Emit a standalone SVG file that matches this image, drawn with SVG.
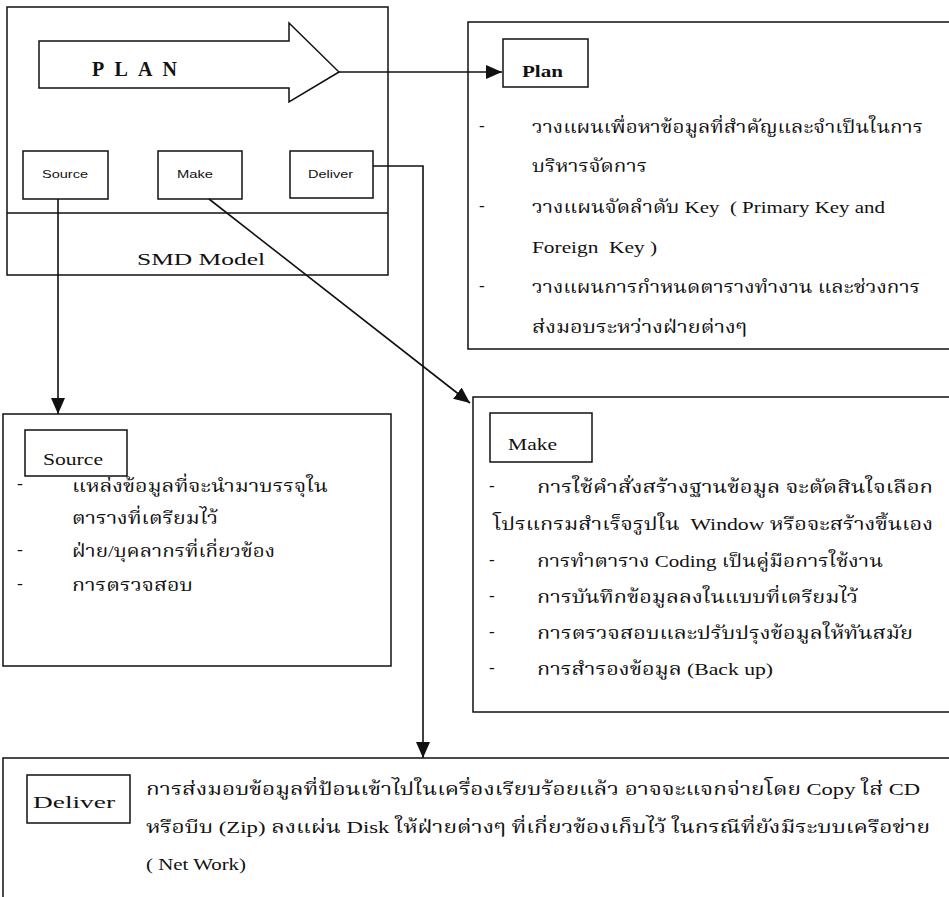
<svg xmlns="http://www.w3.org/2000/svg" width="949" height="897" viewBox="0 0 949 897">
<style>
.box{fill:none;stroke:#111;stroke-width:1.5}
.ln{fill:none;stroke:#111;stroke-width:1.6}
.th{font-family:'Liberation Serif','Noto Serif Thai','Noto Sans Thai',serif;font-size:17px;fill:#111;white-space:pre}
.thb{font-family:'Liberation Serif','Noto Serif Thai','Noto Sans Thai',serif;font-size:17.5px;fill:#111;white-space:pre}
.sm{font-family:'Liberation Sans',Arial,sans-serif;font-size:11px;fill:#111}
.lbl{font-family:'Liberation Serif',serif;font-size:16px;fill:#111}
</style>
<defs>
<marker id="ah" viewBox="0 0 16 14" refX="16" refY="7" markerWidth="16" markerHeight="14" markerUnits="userSpaceOnUse" orient="auto">
<path d="M0,0 L16,7 L0,14 Z" fill="#111"/>
</marker>
</defs>
<rect width="949" height="897" fill="#fff"/>

<g id="smd-model">
<rect class="box" x="7" y="7" width="381" height="268"/>
<line class="box" x1="7" y1="213" x2="388" y2="213"/>
<text class="lbl" x="137" y="265" font-size="18" textLength="128" lengthAdjust="spacingAndGlyphs">SMD  Model</text>
</g>

<g id="plan-arrow">
<path class="box" d="M39,41 L289,41 L289,23 L339,72 L289,102 L289,88 L39,88 Z"/>
<text x="92" y="76" font-family="'Liberation Serif',serif" font-size="20" font-weight="bold" fill="#111" textLength="85" lengthAdjust="spacing">PLAN</text>
</g>

<g id="source-small">
<rect class="box" x="23" y="151" width="85" height="48"/>
<text class="sm" x="42" y="178" textLength="46" lengthAdjust="spacingAndGlyphs">Source</text>
</g>
<g id="make-small">
<rect class="box" x="158" y="151" width="84" height="48"/>
<text class="sm" x="177" y="178" textLength="36" lengthAdjust="spacingAndGlyphs">Make</text>
</g>
<g id="deliver-small">
<rect class="box" x="290" y="151" width="83" height="47"/>
<text class="sm" x="308" y="178" textLength="45" lengthAdjust="spacingAndGlyphs">Deliver</text>
</g>

<g id="plan">
<rect class="box" x="468" y="22" width="490" height="327"/>
<rect class="box" x="503" y="39" width="85" height="48"/>
<text class="lbl" x="522" y="77" font-weight="bold" textLength="41" lengthAdjust="spacingAndGlyphs">Plan</text>
<text class="th" x="479" y="131">-</text>
<text class="th" x="532" y="133" textLength="391" lengthAdjust="spacingAndGlyphs">วางแผนเพื่อหาข้อมูลที่สำคัญและจำเป็นในการ</text>
<text class="th" x="532" y="172" textLength="115" lengthAdjust="spacingAndGlyphs">บริหารจัดการ</text>
<text class="th" x="479" y="211">-</text>
<text class="th" x="532" y="213" textLength="353" lengthAdjust="spacingAndGlyphs">วางแผนจัดลำดับ Key  ( Primary Key and</text>
<text class="th" x="532" y="253" textLength="125" lengthAdjust="spacingAndGlyphs">Foreign  Key )</text>
<text class="th" x="479" y="291">-</text>
<text class="th" x="532" y="293" textLength="388" lengthAdjust="spacingAndGlyphs">วางแผนการกำหนดตารางทำงาน และช่วงการ</text>
<text class="th" x="532" y="333" textLength="215" lengthAdjust="spacingAndGlyphs">ส่งมอบระหว่างฝ่ายต่างๆ</text>
</g>

<g id="source">
<rect class="box" x="3" y="414" width="388" height="252"/>
<rect class="box" x="25" y="430" width="102" height="46"/>
<text class="thb" x="43" y="465" font-size="18" textLength="60" lengthAdjust="spacingAndGlyphs">Source</text>
<text class="thb" x="17" y="489">-</text>
<text class="thb" x="72" y="492" textLength="256" lengthAdjust="spacingAndGlyphs">แหล่งข้อมูลที่จะนำมาบรรจุใน</text>
<text class="thb" x="72" y="524" textLength="146" lengthAdjust="spacingAndGlyphs">ตารางที่เตรียมไว้</text>
<text class="thb" x="17" y="555">-</text>
<text class="thb" x="72" y="557" textLength="203" lengthAdjust="spacingAndGlyphs">ฝ่าย/บุคลากรที่เกี่ยวข้อง</text>
<text class="thb" x="17" y="589">-</text>
<text class="thb" x="72" y="591" textLength="121" lengthAdjust="spacingAndGlyphs">การตรวจสอบ</text>
</g>

<g id="make">
<rect class="box" x="473" y="397" width="485" height="315"/>
<rect class="box" x="490" y="413" width="102" height="49"/>
<text class="thb" x="508" y="450" font-size="18" textLength="49" lengthAdjust="spacingAndGlyphs">Make</text>
<text class="th" x="489" y="491">-</text>
<text class="th" x="537" y="493" textLength="396" lengthAdjust="spacingAndGlyphs">การใช้คำสั่งสร้างฐานข้อมูล จะตัดสินใจเลือก</text>
<text class="th" x="493" y="530" textLength="440" lengthAdjust="spacingAndGlyphs">โปรแกรมสำเร็จรูปใน  Window หรือจะสร้างขึ้นเอง</text>
<text class="th" x="489" y="565">-</text>
<text class="th" x="537" y="567" textLength="346" lengthAdjust="spacingAndGlyphs">การทำตาราง Coding เป็นคู่มือการใช้งาน</text>
<text class="th" x="489" y="601">-</text>
<text class="th" x="537" y="603" textLength="321" lengthAdjust="spacingAndGlyphs">การบันทึกข้อมูลลงในแบบที่เตรียมไว้</text>
<text class="th" x="489" y="637">-</text>
<text class="th" x="537" y="639" textLength="376" lengthAdjust="spacingAndGlyphs">การตรวจสอบและปรับปรุงข้อมูลให้ทันสมัย</text>
<text class="th" x="489" y="673">-</text>
<text class="th" x="537" y="675" textLength="236" lengthAdjust="spacingAndGlyphs">การสำรองข้อมูล (Back up)</text>
</g>

<g id="deliver">
<rect class="box" x="3" y="758" width="955" height="150"/>
<rect class="box" x="27" y="775" width="103" height="48"/>
<text class="thb" x="33" y="808" font-size="17" textLength="82" lengthAdjust="spacingAndGlyphs">Deliver</text>
<text class="th" x="146" y="795" textLength="774" lengthAdjust="spacingAndGlyphs">การส่งมอบข้อมูลที่ป้อนเข้าไปในเครื่องเรียบร้อยแล้ว อาจจะแจกจ่ายโดย Copy ใส่ CD</text>
<text class="th" x="146" y="833" textLength="784" lengthAdjust="spacingAndGlyphs">หรือบีบ (Zip) ลงแผ่น Disk ให้ฝ่ายต่างๆ ที่เกี่ยวข้องเก็บไว้ ในกรณีที่ยังมีระบบเครือข่าย</text>
<text class="th" x="146" y="870" textLength="100" lengthAdjust="spacingAndGlyphs">( Net Work)</text>
</g>

<g id="connectors">
<line class="ln" x1="339" y1="72" x2="502" y2="72" marker-end="url(#ah)"/>
<line class="ln" x1="58" y1="199" x2="58" y2="414" marker-end="url(#ah)"/>
<line class="ln" x1="209" y1="199" x2="470" y2="403" marker-end="url(#ah)"/>
<polyline class="ln" points="373,166 423,166 423,758" marker-end="url(#ah)"/>
</g>
</svg>
